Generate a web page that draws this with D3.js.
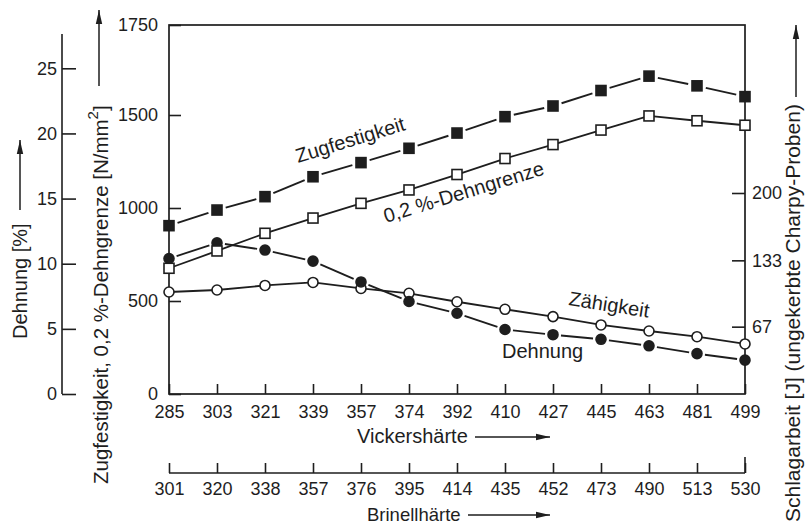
<!DOCTYPE html>
<html>
<head>
<meta charset="utf-8">
<script src="https://cdn.jsdelivr.net/npm/d3@7"></script>
<style>
  html, body { margin: 0; padding: 0; background: #fff; }
  svg text { font-family: "Liberation Sans", Arial, Helvetica, sans-serif; fill: #1e1e1e; }
  .tick line, .axisline { stroke: #1e1e1e; stroke-width: 1.6; }
  .tick text { font-size: 18px; }
</style>
</head>
<body>
<svg id="chart" width="806" height="526"></svg>
<script>
// Hardness classes (Vickers and equivalent Brinell)
const vickers = [285, 303, 321, 339, 357, 374, 392, 410, 427, 445, 463, 481, 499];
const brinell = [301, 320, 338, 357, 376, 395, 414, 435, 452, 473, 490, 513, 530];

// Mechanical properties per hardness class
const zugfestigkeit = [905, 989, 1061, 1168, 1244, 1321, 1403, 1491, 1525, 1568, 1608, 1581, 1551]; // N/mm²
const dehngrenze    = [676, 769, 864, 946, 1025, 1097, 1180, 1266, 1341, 1419, 1495, 1469, 1445];   // N/mm²
const dehnung       = [10.4, 11.6, 11.05, 10.2, 8.6, 7.1, 6.2, 4.95, 4.55, 4.2, 3.7, 3.1, 2.6];     // %
const zaehigkeit    = [101.5, 103.5, 108, 111, 105, 100.2, 91.8, 84.3, 77, 68.7, 62.7, 57, 49.8];   // J

// Tick labels
const strengthTicks = [0, 500, 1000, 1500, 1750];
const dehnungTicks = [0, 5, 10, 15, 20, 25];
const energyTicks = [67, 133, 200];

const svg = d3.select("#chart");
const ink = "#1e1e1e";

// Plot frame
const frameL = 169, frameR = 745, frameT = 25, frameB = 394;

const x = d3.scalePoint().domain(d3.range(vickers.length)).range([frameL, frameR]);
const yS = d3.scaleLinear().domain([0, 1500, 1750]).range([frameB, 115, frameT]);
const yD = d3.scaleLinear().domain([0, 25]).range([frameB, 68.3]);
const yJ = d3.scaleLinear().domain([0, 200]).range([frameB, 193]);

// Arrowhead
svg.append("defs").append("marker")
  .attr("id", "arrow").attr("viewBox", "0 0 14 8")
  .attr("refX", 14).attr("refY", 4)
  .attr("markerWidth", 14).attr("markerHeight", 8)
  .attr("markerUnits", "userSpaceOnUse")
  .attr("orient", "auto")
  .append("path").attr("d", "M0,0.8 L14,4 L0,7.2 Z").attr("fill", ink);

function arrow(x1, y1, x2, y2) {
  svg.append("line").attr("x1", x1).attr("y1", y1).attr("x2", x2).attr("y2", y2)
    .attr("stroke", ink).attr("stroke-width", 1.5).attr("marker-end", "url(#arrow)");
}

// Frame
svg.append("rect").attr("x", frameL).attr("y", frameT)
  .attr("width", frameR - frameL).attr("height", frameB - frameT)
  .attr("fill", "none").attr("stroke", ink).attr("stroke-width", 1.7);

// Strength axis (left of frame)
const gS = svg.append("g").attr("transform", `translate(${frameL},0)`)
  .call(d3.axisLeft(yS).tickValues(strengthTicks).tickSize(-12).tickSizeOuter(0).tickPadding(11).tickFormat(d3.format("d")));
gS.select(".domain").remove();

// Elongation axis (far left)
const dx = 62;
svg.append("line").attr("class", "axisline").attr("x1", dx).attr("x2", dx).attr("y1", 34).attr("y2", frameB);
const gD = svg.append("g").attr("transform", `translate(${dx},0)`)
  .call(d3.axisLeft(yD).tickValues(dehnungTicks).tickSize(-14).tickSizeOuter(0).tickPadding(5));
gD.select(".domain").remove();

// Impact energy axis (right of frame)
const gJ = svg.append("g").attr("transform", `translate(${frameR},0)`)
  .call(d3.axisRight(yJ).tickValues(energyTicks).tickSize(-13).tickSizeOuter(0).tickPadding(7));
gJ.select(".domain").remove();

// Vickers axis (bottom of frame)
const gV = svg.append("g").attr("transform", `translate(0,${frameB})`)
  .call(d3.axisBottom(x).tickSize(-10).tickSizeOuter(0).tickPadding(11).tickFormat(i => vickers[i]));
gV.select(".domain").remove();

// Brinell axis (separate scale line below)
const by = 473;
svg.append("line").attr("class", "axisline").attr("x1", frameL).attr("x2", frameR).attr("y1", by).attr("y2", by);
const gB = svg.append("g").attr("transform", `translate(0,${by})`)
  .call(d3.axisBottom(x).tickSize(-10).tickSizeOuter(0).tickPadding(9).tickFormat(i => brinell[i]));
gB.select(".domain").remove();
svg.append("line").attr("class", "axisline").attr("x1", frameR).attr("x2", frameR).attr("y1", by - 16).attr("y2", by);

svg.selectAll(".tick line").attr("stroke", ink).attr("stroke-width", 1.6);
svg.selectAll(".tick text").attr("fill", ink);

// Axis titles
svg.append("text").attr("x", 357).attr("y", 443).attr("font-size", 20).text("Vickershärte");
arrow(475, 437, 550, 437);
svg.append("text").attr("x", 367).attr("y", 521).attr("font-size", 18.5).text("Brinellhärte");
arrow(468, 515, 550, 515);

svg.append("text").attr("transform", "translate(27,339) rotate(-90)").attr("font-size", 20).text("Dehnung [%]");
arrow(20, 210, 20, 140);

const tS = svg.append("text").attr("transform", "translate(108,484) rotate(-90)").attr("font-size", 20.5);
tS.append("tspan").text("Zugfestigkeit, 0,2 %-Dehngrenze [N/mm");
tS.append("tspan").attr("dy", -10).attr("font-size", 15).text("2");
tS.append("tspan").attr("dy", 10).text("]");
arrow(99, 86, 99, 10);

svg.append("text").attr("transform", "translate(800,522) rotate(-90)").attr("font-size", 21)
  .text("Schlagarbeit [J] (ungekerbte Charpy-Proben)");
arrow(796, 97, 796, 25);

// Series drawing helpers
const pts = (vals, y) => vals.map((v, i) => [x(i), y(v)]);

function solidLine(p) {
  svg.append("path").attr("d", d3.line()(p)).attr("fill", "none")
    .attr("stroke", ink).attr("stroke-width", 1.8);
}
// Segments interrupted around every marker
function gappedLine(p, gap) {
  for (let i = 0; i < p.length - 1; i++) {
    const [x1, y1] = p[i], [x2, y2] = p[i + 1];
    const len = Math.hypot(x2 - x1, y2 - y1);
    const ux = (x2 - x1) / len, uy = (y2 - y1) / len;
    svg.append("line")
      .attr("x1", x1 + ux * gap).attr("y1", y1 + uy * gap)
      .attr("x2", x2 - ux * gap).attr("y2", y2 - uy * gap)
      .attr("stroke", ink).attr("stroke-width", 1.9);
  }
}
function squares(p, filled) {
  svg.append("g").selectAll("rect").data(p).join("rect")
    .attr("x", d => d[0] - 5).attr("y", d => d[1] - 5)
    .attr("width", 10).attr("height", 10)
    .attr("fill", filled ? ink : "#fff").attr("stroke", ink).attr("stroke-width", 1.6);
}
function circles(p, filled) {
  svg.append("g").selectAll("circle").data(p).join("circle")
    .attr("cx", d => d[0]).attr("cy", d => d[1]).attr("r", 5)
    .attr("fill", filled ? ink : "#fff").attr("stroke", ink).attr("stroke-width", 1.6);
}

const pZ = pts(zugfestigkeit, yS);
const pR = pts(dehngrenze, yS);
const pA = pts(dehnung, yD);
const pK = pts(zaehigkeit, yJ);

solidLine(pK);
gappedLine(pA, 8);
solidLine(pR);
gappedLine(pZ, 9);

circles(pK, false);
circles(pA, true);
squares(pR, false);
squares(pZ, true);

// Curve labels
svg.append("text").attr("transform", "translate(298,163) rotate(-17)").attr("font-size", 20).text("Zugfestigkeit");
svg.append("text").attr("transform", "translate(386,223) rotate(-17)").attr("font-size", 20).text("0,2 %-Dehngrenze");
svg.append("text").attr("transform", "translate(568,305) rotate(9)").attr("font-size", 20).text("Zähigkeit");
svg.append("text").attr("x", 502).attr("y", 358).attr("font-size", 20).text("Dehnung");
</script>
</body>
</html>
